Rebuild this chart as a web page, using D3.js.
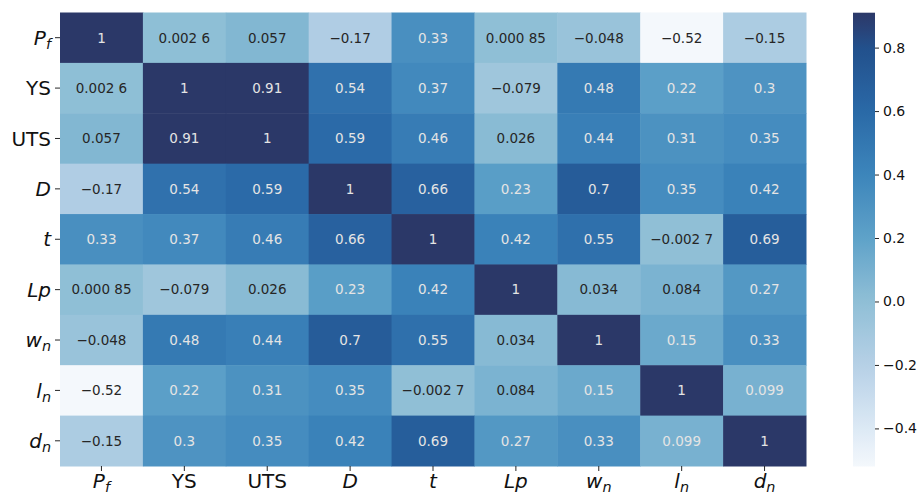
<!DOCTYPE html>
<html>
<head>
<meta charset="utf-8">
<script src="https://cdn.jsdelivr.net/npm/d3@7"></script>
<style>
  body { margin: 0; background: #fff; }
  svg { display: block; font-family: "DejaVu Sans", sans-serif; }
</style>
</head>
<body>
<svg id="chart" width="917" height="495"></svg>
<script>
// ---- data ----
const variables = ["Pf", "YS", "UTS", "D", "t", "Lp", "wn", "ln", "dn"];
const labelParts = [
  {main: "P", sub: "f", italic: true},
  {main: "YS", sub: "", italic: false},
  {main: "UTS", sub: "", italic: false},
  {main: "D", sub: "", italic: true},
  {main: "t", sub: "", italic: true},
  {main: "Lp", sub: "", italic: true},
  {main: "w", sub: "n", italic: true},
  {main: "l", sub: "n", italic: true},
  {main: "d", sub: "n", italic: true}
];
const rowPf  = [1, 0.0026, 0.057, -0.17, 0.33, 0.00085, -0.048, -0.52, -0.15];
const rowYS  = [0.0026, 1, 0.91, 0.54, 0.37, -0.079, 0.48, 0.22, 0.3];
const rowUTS = [0.057, 0.91, 1, 0.59, 0.46, 0.026, 0.44, 0.31, 0.35];
const rowD   = [-0.17, 0.54, 0.59, 1, 0.66, 0.23, 0.7, 0.35, 0.42];
const rowT   = [0.33, 0.37, 0.46, 0.66, 1, 0.42, 0.55, -0.0027, 0.69];
const rowLp  = [0.00085, -0.079, 0.026, 0.23, 0.42, 1, 0.034, 0.084, 0.27];
const rowWn  = [-0.048, 0.48, 0.44, 0.7, 0.55, 0.034, 1, 0.15, 0.33];
const rowLn  = [-0.52, 0.22, 0.31, 0.35, -0.0027, 0.084, 0.15, 1, 0.099];
const rowDn  = [-0.15, 0.3, 0.35, 0.42, 0.69, 0.27, 0.33, 0.099, 1];
const matrix = [rowPf, rowYS, rowUTS, rowD, rowT, rowLp, rowWn, rowLn, rowDn];
const colorbarTicks = [-0.4, -0.2, 0.0, 0.2, 0.4, 0.6, 0.8];
const vmin = -0.52, vmax = 0.91;

// ---- layout ----
const svg = d3.select("#chart");
const hmLeft = 60, hmRight = 806, hmTop = 12.5, hmBottom = 466;
const x = d3.scaleBand().domain(d3.range(9)).range([hmLeft, hmRight]);
const y = d3.scaleBand().domain(d3.range(9)).range([hmTop, hmBottom]);

// colormap (sampled from reference colourbar)
const stopVals = [-0.52, -0.4, -0.2, 0.0, 0.2, 0.4, 0.6, 0.8, 0.91];
const stopCols = ["#f4f8fc", "#dce9f5", "#b6d0e6", "#8fbfd6", "#5ea2c9", "#3c85bb", "#2a69a7", "#22508c", "#2b3868"];
const color = d3.scaleLinear().domain(stopVals).range(stopCols).interpolate(d3.interpolateLab).clamp(true);

function fmt(v) {
  const a = Math.abs(v);
  let s = String(a);
  const dot = s.indexOf(".");
  if (dot >= 0 && s.length - dot - 1 > 3) {
    s = s.slice(0, dot + 4) + " " + s.slice(dot + 4);
  }
  return (v < 0 ? "\u2212" : "") + s;
}
function lum(c) {
  const rgb = d3.rgb(c);
  const f = u => { u /= 255; return u <= 0.03928 ? u / 12.92 : Math.pow((u + 0.055) / 1.055, 2.4); };
  return 0.2126 * f(rgb.r) + 0.7152 * f(rgb.g) + 0.0722 * f(rgb.b);
}

const cells = [];
matrix.forEach((row, i) => row.forEach((v, j) => cells.push({i, j, v})));

const g = svg.append("g");
g.selectAll("rect.cell").data(cells).join("rect")
  .attr("class", "cell")
  .attr("x", d => x(d.j)).attr("y", d => y(d.i))
  .attr("width", x.bandwidth() + 0.5).attr("height", y.bandwidth() + 0.5)
  .attr("fill", d => color(d.v));

g.selectAll("text.val").data(cells).join("text")
  .attr("class", "val")
  .attr("x", d => x(d.j) + x.bandwidth() / 2)
  .attr("y", d => y(d.i) + y.bandwidth() / 2)
  .attr("dy", "0.36em")
  .attr("text-anchor", "middle")
  .attr("font-size", 13.5)
  .attr("fill", d => lum(color(d.v)) > 0.408 ? "#262626" : "#e4e4e4")
  .text(d => fmt(d.v));

function addLabel(sel, p, size) {
  sel.append("tspan").attr("font-style", p.italic ? "italic" : "normal").text(p.main);
  if (p.sub) {
    sel.append("tspan").attr("font-style", "italic").attr("font-size", size * 0.72)
      .attr("dy", size * 0.2).text(p.sub);
  }
}
// y axis
const yAxis = svg.append("g");
d3.range(9).forEach(i => {
  const cy = y(i) + y.bandwidth() / 2;
  yAxis.append("line").attr("x1", hmLeft - 5).attr("x2", hmLeft).attr("y1", cy).attr("y2", cy)
    .attr("stroke", "#262626").attr("stroke-width", 1);
  const t = yAxis.append("text").attr("x", hmLeft - 9).attr("y", cy).attr("dy", "0.36em")
    .attr("text-anchor", "end").attr("font-size", 20).attr("fill", "#111");
  addLabel(t, labelParts[i], 20);
});
// x axis
const xAxis = svg.append("g");
d3.range(9).forEach(j => {
  const cx = x(j) + x.bandwidth() / 2;
  xAxis.append("line").attr("x1", cx).attr("x2", cx).attr("y1", hmBottom).attr("y2", hmBottom + 5)
    .attr("stroke", "#262626").attr("stroke-width", 1);
  const t = xAxis.append("text").attr("x", cx).attr("y", 488)
    .attr("text-anchor", "middle").attr("font-size", 20).attr("fill", "#111");
  addLabel(t, labelParts[j], 20);
});

// colourbar
const cbX = 853, cbW = 22;
const cbScale = d3.scaleLinear().domain([vmin, vmax]).range([466.5, 12.7]);
const defs = svg.append("defs");
const grad = defs.append("linearGradient").attr("id", "cbgrad")
  .attr("x1", 0).attr("y1", 1).attr("x2", 0).attr("y2", 0);
d3.range(0, 1.0001, 0.02).forEach(t => {
  const v = vmin + t * (vmax - vmin);
  grad.append("stop").attr("offset", t).attr("stop-color", color(v));
});
svg.append("rect").attr("x", cbX).attr("y", cbScale(vmax)).attr("width", cbW)
  .attr("height", cbScale(vmin) - cbScale(vmax)).attr("fill", "url(#cbgrad)");
const cbAxis = svg.append("g").attr("transform", `translate(${cbX + cbW},0)`)
  .call(d3.axisRight(cbScale).tickValues(colorbarTicks).tickSize(4).tickPadding(4)
    .tickFormat(d => (d < 0 ? "\u2212" : "") + Math.abs(d).toFixed(1)));
cbAxis.select(".domain").remove();
cbAxis.selectAll("text").attr("font-size", 14).attr("font-family", "DejaVu Sans").attr("fill", "#111");
cbAxis.selectAll("line").attr("stroke", "#262626");
</script>
</body>
</html>
